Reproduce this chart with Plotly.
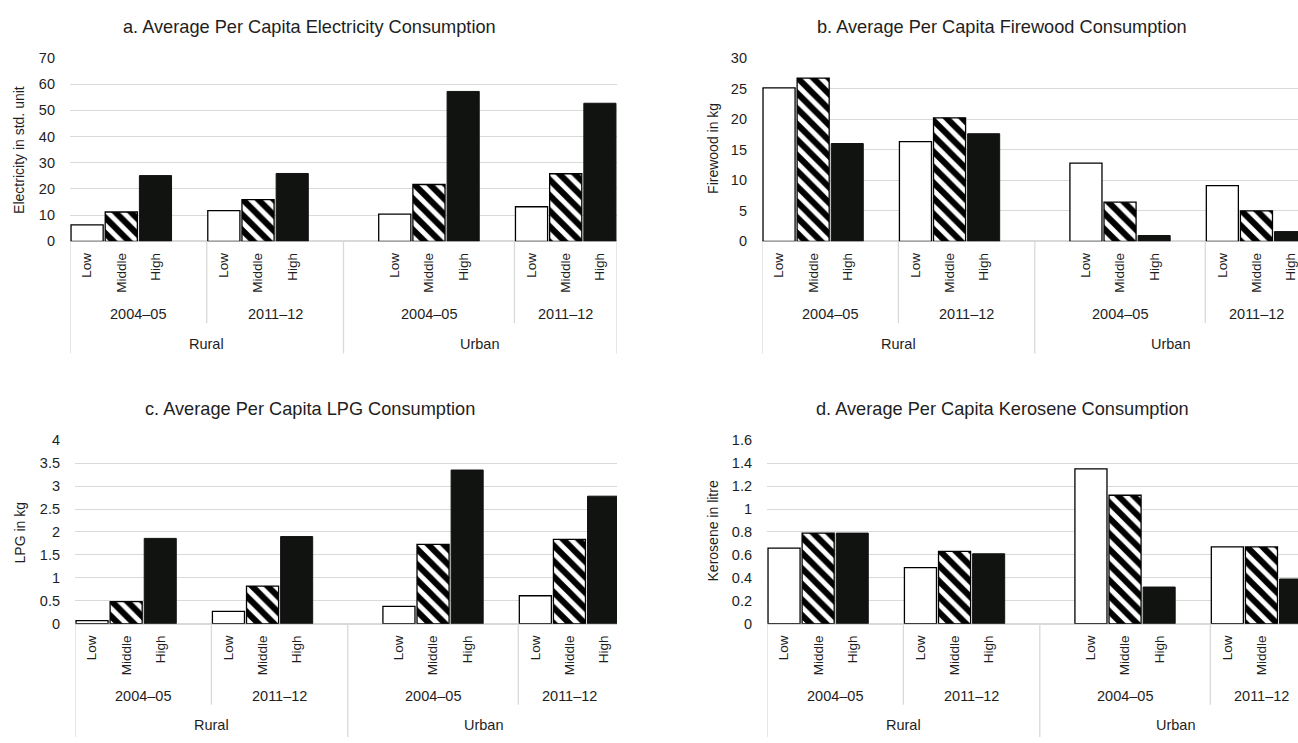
import plotly.graph_objects as go

# ---------------- data ----------------
areas = ["Rural", "Urban"]
years = ["2004–05", "2011–12"]
incomes = ["Low", "Middle", "High"]

panel_titles = [
    "a. Average Per Capita Electricity Consumption",
    "b. Average Per Capita Firewood Consumption",
    "c. Average Per Capita LPG Consumption",
    "d. Average Per Capita Kerosene Consumption",
]
y_titles = ["Electricity in std. unit", "Firewood in kg", "LPG in kg", "Kerosene in litre"]

# values ordered: Rural 2004–05, Rural 2011–12, Urban 2004–05, Urban 2011–12
elec_low = [6.3, 11.7, 10.4, 13.2]
elec_mid = [11.2, 15.9, 21.7, 25.8]
elec_high = [25.1, 25.9, 57.2, 52.7]

fire_low = [25.1, 16.3, 12.8, 9.1]
fire_mid = [26.7, 20.2, 6.4, 5.0]
fire_high = [16.0, 17.6, 0.96, 1.6]

lpg_low = [0.07, 0.27, 0.38, 0.61]
lpg_mid = [0.48, 0.82, 1.73, 1.84]
lpg_high = [1.86, 1.90, 3.35, 2.78]

ker_low = [0.66, 0.49, 1.35, 0.67]
ker_mid = [0.79, 0.63, 1.12, 0.67]
ker_high = [0.79, 0.61, 0.32, 0.39]

elec_ticks = [0, 10, 20, 30, 40, 50, 60, 70]
elec_ticktext = ["0", "10", "20", "30", "40", "50", "60", "70"]
fire_ticks = [0, 5, 10, 15, 20, 25, 30]
fire_ticktext = ["0", "5", "10", "15", "20", "25", "30"]
lpg_ticks = [0, 0.5, 1, 1.5, 2, 2.5, 3, 3.5, 4]
lpg_ticktext = ["0", "0.5", "1", "1.5", "2", "2.5", "3", "3.5", "4"]
ker_ticks = [0, 0.2, 0.4, 0.6, 0.8, 1.0, 1.2, 1.4, 1.6]
ker_ticktext = ["0", "0.2", "0.4", "0.6", "0.8", "1", "1.2", "1.4", "1.6"]

# ---------------- category slot layout ----------------
# blank slots ("") as in the original spreadsheet chart
block_slots = [
    ["Low", "Middle", "High", ""],        # Rural 2004–05
    ["Low", "Middle", "High", ""],        # Rural 2011–12
    ["", "Low", "Middle", "High", ""],    # Urban 2004–05
    ["Low", "Middle", "High"],            # Urban 2011–12
]
block_area = [0, 0, 1, 1]
block_year = [0, 1, 0, 1]

slot_pos = {}       # (block, income) -> x position
tickvals, ticktext = [], []
block_span = []
pos = 0
for b, slots in enumerate(block_slots):
    start = pos
    for s in slots:
        if s:
            slot_pos[(b, s)] = pos
            tickvals.append(pos)
            ticktext.append(s)
        pos += 1
    block_span.append((start - 0.5, pos - 0.5))
n_slots = pos

W, H = 1298, 743
FONT = "Liberation Sans, Arial, Helvetica, sans-serif"
TXT = "#1e1e1e"
GRID = "#d9d9d9"

panels = [
    dict(low=elec_low, mid=elec_mid, high=elec_high, ticks=elec_ticks, tt=elec_ticktext,
         x0=70, x1=617, top=51, bot=238.5, yr=[0, 70], title_xy=(309, 19), ytitle_xy=(19, 145),
         year_y=313, area_y=343, ydiv_end=322, long_end=353),
    dict(low=fire_low, mid=fire_mid, high=fire_high, ticks=fire_ticks, tt=fire_ticktext,
         x0=762, x1=1298, top=51, bot=238.5, yr=[0, 30], title_xy=(1002, 19), ytitle_xy=(713, 144),
         year_y=313, area_y=343, ydiv_end=322, long_end=353),
    dict(low=lpg_low, mid=lpg_mid, high=lpg_high, ticks=lpg_ticks, tt=lpg_ticktext,
         x0=75, x1=617, top=441.7, bot=629.3, yr=[0, 4], title_xy=(310, 410), ytitle_xy=(20, 537),
         year_y=703, area_y=733, ydiv_end=712, long_end=745),
    dict(low=ker_low, mid=ker_mid, high=ker_high, ticks=ker_ticks, tt=ker_ticktext,
         x0=767, x1=1298, top=441.7, bot=629.3, yr=[0, 1.6], title_xy=(1002, 410), ytitle_xy=(713, 535),
         year_y=703, area_y=733, ydiv_end=712, long_end=745),
]

SLOT_PX = 34.1
BAR_W = 0.94

fig = go.Figure()
annotations = []
shapes = []

for i, p in enumerate(panels):
    xa = "x" if i == 0 else f"x{i+1}"
    ya = "y" if i == 0 else f"y{i+1}"
    xl = "xaxis" if i == 0 else f"xaxis{i+1}"
    yl = "yaxis" if i == 0 else f"yaxis{i+1}"

    styles = {
        "Low": dict(color="white", line=dict(color="black", width=1.3)),
        "Middle": dict(color="white", line=dict(color="black", width=1.3),
                       pattern=dict(shape="\\", fgcolor="black", bgcolor="white", size=11,
                                    solidity=0.55, fgopacity=1)),
        "High": dict(color="#111311", line=dict(color="#111311", width=1)),
    }
    series = {"Low": p["low"], "Middle": p["mid"], "High": p["high"]}
    for inc in incomes:
        xs = [slot_pos[(b, inc)] for b in range(len(block_slots))]
        fig.add_trace(go.Bar(x=xs, y=series[inc], width=BAR_W, marker=styles[inc],
                             xaxis=xa, yaxis=ya, showlegend=False, name=inc))

    xr_end = -0.5 + (p["x1"] - p["x0"]) / SLOT_PX
    if xr_end > n_slots - 0.5:
        xr_end = n_slots - 0.5
    fig.update_layout({
        xl: dict(domain=[p["x0"] / W, p["x1"] / W], range=[-0.5, xr_end], anchor=ya,
                 tickmode="array", tickvals=tickvals, ticktext=ticktext, tickangle=-90,
                 showgrid=False, zeroline=False, showline=False, ticks="",
                 ticklabelstandoff=8, tickfont=dict(size=13.5, color=TXT, family=FONT)),
        yl: dict(domain=[1 - p["bot"] / H, 1 - p["top"] / H], range=p["yr"], anchor=xa,
                 tickmode="array", tickvals=p["ticks"], ticktext=p["tt"],
                 showgrid=True, gridcolor=GRID, gridwidth=1, zeroline=True, zerolinecolor=GRID,
                 zerolinewidth=1.5, showline=False, ticks="", ticklabelstandoff=14,
                 tickfont=dict(size=14.5, color=TXT, family=FONT)),
    })

    # titles
    annotations.append(dict(text=panel_titles[i], x=p["title_xy"][0] / W, y=1 - p["title_xy"][1] / H,
                            xref="paper", yref="paper", showarrow=False, xanchor="center", yanchor="middle",
                            font=dict(size=18.2, color=TXT, family=FONT)))
    annotations.append(dict(text=y_titles[i], x=p["ytitle_xy"][0] / W, y=1 - p["ytitle_xy"][1] / H,
                            xref="paper", yref="paper", showarrow=False, textangle=-90,
                            xanchor="center", yanchor="middle", font=dict(size=14, color=TXT, family=FONT)))

    # year labels
    for b, (s0, s1) in enumerate(block_span):
        annotations.append(dict(text=years[block_year[b]], x=(s0 + s1) / 2, y=1 - p["year_y"] / H,
                                xref=xa, yref="paper", showarrow=False, xanchor="center", yanchor="middle",
                                font=dict(size=14.5, color=TXT, family=FONT)))
    # area labels
    for a in range(len(areas)):
        spans = [block_span[b] for b in range(len(block_slots)) if block_area[b] == a]
        a0, a1 = spans[0][0], spans[-1][1]
        annotations.append(dict(text=areas[a], x=(a0 + a1) / 2, y=1 - p["area_y"] / H,
                                xref=xa, yref="paper", showarrow=False, xanchor="center", yanchor="middle",
                                font=dict(size=14.5, color=TXT, family=FONT)))
    # divider lines
    long_pos = [-0.5] + [block_span[b][1] for b in range(len(block_slots))
                         if b == len(block_slots) - 1 or block_area[b] != block_area[b + 1]]
    short_pos = [block_span[b][1] for b in range(len(block_slots) - 1) if block_area[b] == block_area[b + 1]]
    for xp in long_pos:
        if xp <= xr_end:
            shapes.append(dict(type="line", xref=xa, yref="paper", x0=xp, x1=xp,
                               y0=1 - p["bot"] / H, y1=1 - p["long_end"] / H, line=dict(color=GRID, width=1.3)))
    for xp in short_pos:
        shapes.append(dict(type="line", xref=xa, yref="paper", x0=xp, x1=xp,
                           y0=1 - p["bot"] / H, y1=1 - p["ydiv_end"] / H, line=dict(color=GRID, width=1.3)))

fig.update_layout(
    width=W, height=H, margin=dict(l=0, r=0, t=0, b=0),
    paper_bgcolor="white", plot_bgcolor="white",
    barmode="overlay", showlegend=False,
    font=dict(family=FONT, color=TXT),
    annotations=annotations, shapes=shapes,
)

fig.write_html("out.html")
